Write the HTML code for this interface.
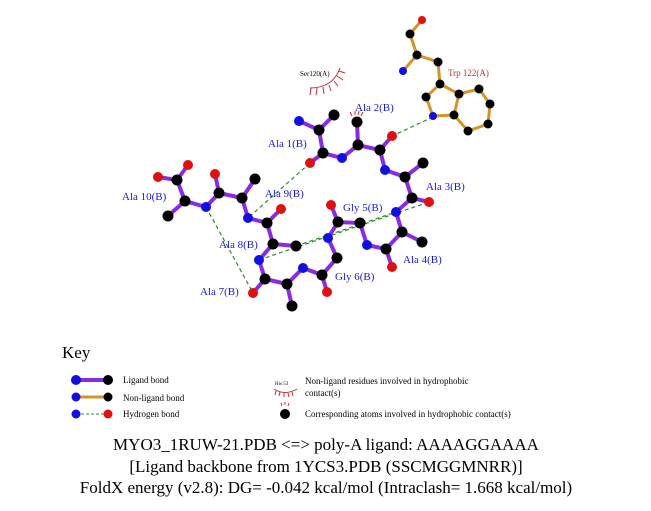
<!DOCTYPE html>
<html><head><meta charset="utf-8"><style>
html,body{margin:0;padding:0;background:#fff;}
svg{display:block;font-family:"Liberation Serif",serif;}
</style></head><body>
<svg width="651" height="511" viewBox="0 0 651 511">
<g stroke="#2e8b2e" stroke-width="1.2" stroke-dasharray="4,3" fill="none">
<line x1="433" y1="117" x2="392" y2="136"/>
<line x1="310" y1="163" x2="248" y2="218"/>
<line x1="206" y1="207" x2="253" y2="293"/>
<line x1="259" y1="260" x2="429" y2="202"/>
<line x1="296" y1="246" x2="396" y2="212"/>
</g>
<g stroke="#d4942a" stroke-width="3" fill="none" stroke-linecap="round">
<polyline points="422,20 410,34 417,55 403,71"/>
<polyline points="417,55 438,62 440,84"/>
<polygon points="440,84 426,97 433,116 454,115 459,94"/>
<polyline points="459,94 479,89 490,104 488,124 468,131 454,115"/>
</g>
<g stroke="#8a2be2" stroke-width="4" fill="none" stroke-linecap="round">
<polyline points="299,121 319,130 323,153 342,158 358,145 380,150 385,170 405,177 412,198 396,212 402,232 386,249 367,245 360,223 338,222 328,238 337,258 322,275 303,268 287,284 265,279 259,260 273,244 267,223 248,218 242,198 219,193 206,207 185,201 177,180 158,177"/>
<line x1="319" y1="130" x2="334" y2="115"/>
<line x1="323" y1="153" x2="310" y2="163"/>
<line x1="358" y1="145" x2="357" y2="122"/>
<line x1="380" y1="150" x2="392" y2="136"/>
<line x1="405" y1="177" x2="423" y2="163"/>
<line x1="412" y1="198" x2="429" y2="202"/>
<line x1="402" y1="232" x2="422" y2="242"/>
<line x1="386" y1="249" x2="392" y2="267"/>
<line x1="338" y1="222" x2="331" y2="205"/>
<line x1="322" y1="275" x2="327" y2="292"/>
<line x1="287" y1="284" x2="292" y2="306"/>
<line x1="265" y1="279" x2="253" y2="293"/>
<line x1="273" y1="244" x2="296" y2="246"/>
<line x1="267" y1="223" x2="281" y2="209"/>
<line x1="242" y1="198" x2="255" y2="179"/>
<line x1="219" y1="193" x2="215" y2="174"/>
<line x1="185" y1="201" x2="168" y2="216"/>
<line x1="177" y1="180" x2="188" y2="165"/>
</g>
<g stroke="#c0303a" stroke-width="1" fill="none">
<path d="M310,88 Q333,88 340,68"/>
<line x1="311" y1="88" x2="310" y2="95"/><line x1="317" y1="88" x2="316" y2="95"/><line x1="323" y1="87" x2="324" y2="94"/><line x1="329" y1="85" x2="331" y2="91"/><line x1="334" y1="81" x2="338" y2="86"/><line x1="337" y1="76" x2="343" y2="80"/><line x1="339" y1="71" x2="345" y2="73"/>
<line x1="352" y1="116" x2="350" y2="112"/><line x1="355" y1="115" x2="355" y2="111"/><line x1="358" y1="115" x2="359" y2="111"/><line x1="361" y1="116" x2="363" y2="112"/>
</g>
<text x="300" y="76" font-size="7" fill="#000">Ser120(A)</text>
<g>
<g fill="#000">
<circle cx="410" cy="34" r="4.5"/><circle cx="417" cy="55" r="4.5"/><circle cx="438" cy="62" r="4.5"/><circle cx="440" cy="84" r="4.5"/><circle cx="426" cy="97" r="4.5"/><circle cx="454" cy="115" r="4.5"/><circle cx="459" cy="94" r="4.5"/><circle cx="479" cy="89" r="4.5"/><circle cx="490" cy="104" r="4.5"/><circle cx="488" cy="124" r="4.5"/><circle cx="468" cy="131" r="4.5"/>
<circle cx="319" cy="130" r="5.5"/><circle cx="334" cy="115" r="5.5"/><circle cx="323" cy="153" r="5.5"/><circle cx="358" cy="145" r="5.5"/><circle cx="357" cy="122" r="5.5"/><circle cx="380" cy="150" r="5.5"/><circle cx="405" cy="177" r="5.5"/><circle cx="423" cy="163" r="5.5"/><circle cx="412" cy="198" r="5.5"/><circle cx="402" cy="232" r="5.5"/><circle cx="422" cy="242" r="5.5"/><circle cx="386" cy="249" r="5.5"/><circle cx="360" cy="223" r="5.5"/><circle cx="338" cy="222" r="5.5"/><circle cx="337" cy="258" r="5.5"/><circle cx="322" cy="275" r="5.5"/><circle cx="287" cy="284" r="5.5"/><circle cx="292" cy="306" r="5.5"/><circle cx="265" cy="279" r="5.5"/><circle cx="273" cy="244" r="5.5"/><circle cx="296" cy="246" r="5.5"/><circle cx="267" cy="223" r="5.5"/><circle cx="242" cy="198" r="5.5"/><circle cx="255" cy="179" r="5.5"/><circle cx="219" cy="193" r="5.5"/><circle cx="185" cy="201" r="5.5"/><circle cx="168" cy="216" r="5.5"/><circle cx="177" cy="180" r="5.5"/>
</g>
<g fill="#1010e0">
<circle cx="403" cy="71" r="4"/><circle cx="433" cy="116" r="4"/>
<circle cx="299" cy="121" r="5"/><circle cx="342" cy="158" r="5"/><circle cx="385" cy="170" r="5"/><circle cx="396" cy="212" r="5"/><circle cx="367" cy="245" r="5"/><circle cx="328" cy="238" r="5"/><circle cx="303" cy="268" r="5"/><circle cx="259" cy="260" r="5"/><circle cx="248" cy="218" r="5"/><circle cx="206" cy="207" r="5"/>
</g>
<g fill="#e01010">
<circle cx="422" cy="20" r="4"/>
<circle cx="310" cy="163" r="5"/><circle cx="392" cy="136" r="5"/><circle cx="429" cy="202" r="5"/><circle cx="392" cy="267" r="5"/><circle cx="331" cy="205" r="5"/><circle cx="327" cy="292" r="5"/><circle cx="253" cy="293" r="5"/><circle cx="281" cy="209" r="5"/><circle cx="215" cy="174" r="5"/><circle cx="188" cy="165" r="5"/><circle cx="158" cy="177" r="5"/>
</g>
</g>
<g font-size="11" fill="#1a1ad0">
<text x="355" y="111">Ala 2(B)</text>
<text x="268" y="147">Ala 1(B)</text>
<text x="426" y="190">Ala 3(B)</text>
<text x="122" y="200">Ala 10(B)</text>
<text x="265" y="197">Ala 9(B)</text>
<text x="343" y="211">Gly 5(B)</text>
<text x="219" y="248">Ala 8(B)</text>
<text x="403" y="263">Ala 4(B)</text>
<text x="335" y="280">Gly 6(B)</text>
<text x="200" y="295">Ala 7(B)</text>
</g>
<text x="448" y="76" font-size="9" fill="#c0303a">Trp 122(A)</text>
<text x="62" y="358" font-size="17" fill="#000">Key</text>
<line x1="76" y1="380" x2="108" y2="380" stroke="#8a2be2" stroke-width="4"/>
<circle cx="76" cy="380" r="5" fill="#1010e0"/><circle cx="108" cy="380" r="5" fill="#000"/>
<line x1="76" y1="397" x2="108" y2="397" stroke="#d4942a" stroke-width="3"/>
<circle cx="76" cy="397" r="4.5" fill="#1010e0"/><circle cx="108" cy="397" r="4.5" fill="#000"/>
<line x1="76" y1="414" x2="108" y2="414" stroke="#2e8b2e" stroke-width="1" stroke-dasharray="3,2"/>
<circle cx="76" cy="414" r="4.5" fill="#1010e0"/><circle cx="108" cy="414" r="4.5" fill="#e01010"/>
<g font-size="9" fill="#000">
<text x="123" y="383">Ligand bond</text>
<text x="123" y="401">Non-ligand bond</text>
<text x="123" y="417">Hydrogen bond</text>
<text x="305" y="384">Non-ligand residues involved in hydrophobic</text>
<text x="305" y="396">contact(s)</text>
<text x="305" y="417">Corresponding atoms involved in hydrophobic contact(s)</text>
</g>
<text x="275" y="385" font-size="5">His 53</text>
<path d="M274,389 Q285,396 297,389" stroke="#c0303a" fill="none"/>
<g stroke="#c0303a" stroke-width="1">
<line x1="276" y1="391" x2="275" y2="395"/><line x1="280" y1="392" x2="279" y2="396"/><line x1="284" y1="393" x2="284" y2="397"/><line x1="288" y1="393" x2="289" y2="397"/><line x1="292" y1="392" x2="293" y2="396"/>
<line x1="282" y1="406" x2="281" y2="403"/><line x1="285" y1="405" x2="285" y2="402"/><line x1="288" y1="406" x2="289" y2="403"/>
</g>
<circle cx="285" cy="414" r="5" fill="#000"/>
<g font-size="17" fill="#000" text-anchor="middle">
<text x="326" y="450">MYO3_1RUW-21.PDB &lt;=&gt; poly-A ligand: AAAAGGAAAA</text>
<text x="326" y="472">[Ligand backbone from 1YCS3.PDB (SSCMGGMNRR)]</text>
<text x="326" y="493">FoldX energy (v2.8): DG= -0.042 kcal/mol (Intraclash= 1.668 kcal/mol)</text>
</g>
</svg>
</body></html>
